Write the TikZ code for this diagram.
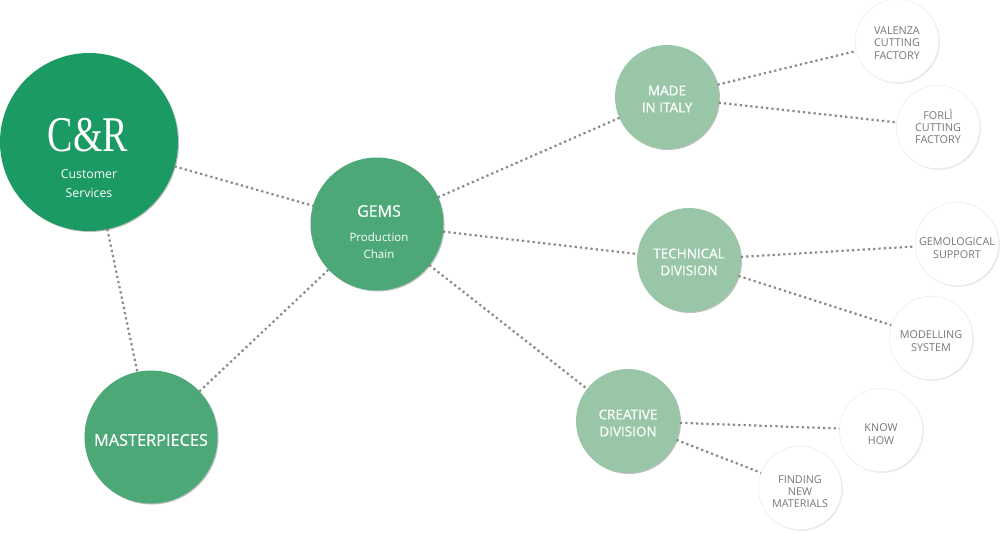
\documentclass[tikz,border=0pt]{standalone}
\usepackage{fontspec}
\setsansfont{Open Sans}
\newfontfamily\heavyfont[FakeBold=0.5]{Open Sans}
\newfontfamily\logofont[FakeStretch=0.76]{Liberation Serif}
\usetikzlibrary{shadows}
\definecolor{brandgreen}{HTML}{1B9A63}
\definecolor{midgreen}{HTML}{4CA877}
\definecolor{palegreen}{HTML}{98C6A6}
\definecolor{leaftext}{HTML}{777777}
\definecolor{linkgray}{HTML}{888888}
\tikzset{basic/.style={circle,inner sep=0pt,outer sep=0pt}}
\tikzset{solid shade/.style={drop shadow={shadow xshift=1pt,shadow yshift=-1pt,opacity=.25,fill=black}}}
\tikzset{brand/.style={basic,solid shade,fill=brandgreen,minimum size=178pt}}
\tikzset{hub/.style={basic,solid shade,fill=midgreen,minimum size=133pt}}
\tikzset{division/.style={basic,solid shade,fill=palegreen,minimum size=104pt}}
\tikzset{leaf/.style={basic,fill=white,draw=black!7,line width=.6pt,minimum size=83.5pt,
                      drop shadow={shadow xshift=1pt,shadow yshift=-1pt,opacity=.1,fill=black}}}
\tikzset{caption/.style={inner sep=0pt,align=center,text=white,font=\sffamily}}
\tikzset{divisiontext/.style={caption,font=\heavyfont\fontsize{13.5}{17}\selectfont}}
\tikzset{leaftxt/.style={caption,text=leaftext,font=\sffamily\fontsize{10.8}{12.3}\selectfont}}
\tikzset{link/.style={draw=linkgray,line width=2.2pt,dash pattern=on 2.2pt off 3.1pt}}

\begin{document}
\begin{tikzpicture}[x=1pt,y=-1pt]
    \useasboundingbox (0,0) rectangle (1000,533);
    \node[brand] (cr) at (89,142) {};
    \node[hub] (gems) at (377,224) {};
    \node[hub] (art) at (151,437) {};
    \node[caption,font=\heavyfont\fontsize{16.3}{20}\selectfont] (arttext) at (151,440) {MASTERPIECES};
    \node[caption] (crname) at (88,135) {\logofont\fontsize{50}{50}\selectfont C\&R};
    \node[caption,font=\sffamily\fontsize{12.3}{19}\selectfont] (crtext) at (89,184) {Customer\\Services};
    \node[caption,font=\heavyfont\fontsize{16}{18}\selectfont] (gemsname) at (379,211) {GEMS};
    \node[caption,font=\sffamily\fontsize{11.5}{17}\selectfont] (gemstext) at (379,246) {Production\\Chain};
    \foreach \h/\pos [count=\hi ] in {{MADE\\IN ITALY}/{667,97},{TECHNICAL\\DIVISION}/{689,260},{CREATIVE\\DIVISION}/{628,421}}{%
          \node[division] (d\hi) at (\pos) {};
          \node[divisiontext] (dt\hi) at ([yshift=-2pt]d\hi) {\h};
          \draw[link] (gems) -- (d\hi);
        }
    % leaves: text, circle, parent, text offset
    \foreach \h/\pos/\up/\drop [count=\hi ] in {{VALENZA\\CUTTING\\FACTORY}/{897,41}/1/-2,{FORLÌ\\CUTTING\\FACTORY}/{938,127}/1/0.5,{GEMOLOGICAL\\SUPPORT}/{957,244}/2/-4,{MODELLING\\SYSTEM}/{931,338}/2/-3,{KNOW\\HOW}/{881,430}/3/-4,{FINDING\\NEW\\MATERIALS}/{800,488}/3/-3.5}{%
          \node[leaf] (l\hi) at (\pos) {};
          \node[leaftxt] (lt\hi) at ([yshift=\drop pt]l\hi) {\h};
          \draw[link] (d\up) -- (l\hi);
        }
    \draw[link] (cr) -- (gems);
    \draw[link] (cr) -- (art);
    \draw[link] (art) -- (gems);
\end{tikzpicture}
\end{document}
